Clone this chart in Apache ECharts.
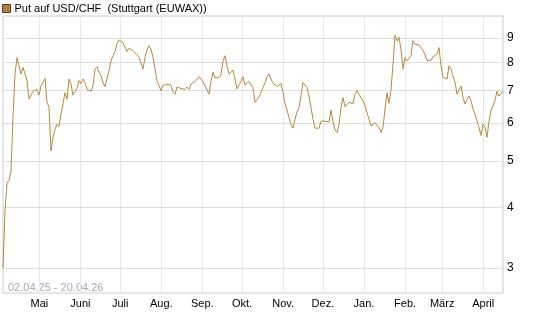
<!DOCTYPE html>
<html lang="de">
<head>
    <meta charset="UTF-8">
    <title>Put auf USD/CHF</title>
    <script src="https://cdn.jsdelivr.net/npm/echarts@6.0.0/dist/echarts.min.js"></script>
    <style>
        html, body { margin: 0; padding: 0; background: #fff; }
        #main { width: 545px; height: 327px; }
    </style>
</head>
<body>
    <div id="main"></div>
    <script>
        const seriesName = 'Put auf USD/CHF  (Stuttgart (EUWAX))'
        const rangeLabel = '02.04.25 - 20.04.26'
        // first and last sample of the line
        const firstDay = [2025, 4, 3, 14]
        const lastDay = [2026, 4, 15, 22]
        const monthTicks = ['2025-05-01', '2025-06-01', '2025-07-01', '2025-08-01', '2025-09-01', '2025-10-01',
            '2025-11-01', '2025-12-01', '2026-01-01', '2026-02-01', '2026-03-01', '2026-04-01']
        const monthNames = ['Jan.', 'Feb.', 'März', 'April', 'Mai', 'Juni', 'Juli', 'Aug.', 'Sep.', 'Okt.', 'Nov.', 'Dez.']
        const yTicks = [3, 4, 5, 6, 7, 8, 9]
        // prices, evenly spaced in time
        const prices = [
            3.0, 3.95, 4.49, 4.56, 4.77, 6.18, 7.58, 8.2, 7.88, 7.58, 7.82, 7.58, 7.34, 6.72, 6.75, 6.98, 7.04, 7.04, 6.85, 7.16,
            7.22, 7.42, 6.62, 6.46, 5.25, 5.6, 5.82, 5.96, 5.9, 6.26, 6.57, 6.93, 6.72, 7.4, 7.22, 6.85, 6.98, 7.07, 7.34, 7.24,
            7.4, 7.28, 7.04, 7.0, 6.98, 7.16, 7.76, 7.84, 7.64,
            7.52, 7.28, 7.13, 7.19, 7.7, 8.07, 8.27, 8.44, 8.76, 8.92, 8.96, 8.8, 8.8, 8.44, 8.57, 8.6, 8.47, 8.41, 8.31, 8.2,
            8.2, 7.76, 8.2, 8.53, 8.67, 8.53, 8.2, 7.76, 7.34, 7.16, 7.0, 7.18, 7.18, 7.22, 7.24, 7.18, 6.95, 6.88, 7.12, 7.16,
            7.07, 7.1, 7.04, 7.12, 7.04, 7.22, 7.24, 7.31, 7.4, 7.48,
            7.5, 7.31, 7.17, 7.12, 6.88, 7.34, 7.64, 7.43, 7.46, 7.46, 7.55, 8.07, 8.27, 7.88, 7.58, 7.55, 7.72, 7.4, 7.06, 7.19,
            7.31, 7.48, 7.19, 7.14, 7.31, 7.33, 7.1, 6.62, 6.57, 6.79, 6.75, 7.1, 7.27, 7.48, 7.58, 7.4, 7.25, 7.2, 7.14, 7.13,
            7.24, 6.93, 6.59, 6.38, 6.15, 5.96, 5.85, 6.1, 6.32, 6.46,
            6.82, 7.28, 7.34, 7.1, 6.82, 6.46, 6.1, 5.85, 5.81, 5.85, 6.05, 6.02, 6.05, 6.07, 6.02, 6.38, 6.05, 5.8, 5.73, 5.96,
            6.46, 6.77, 6.48, 6.52, 6.62, 6.57, 6.57, 6.88, 7.0, 6.88, 6.93, 6.67, 6.52, 6.31, 6.1, 5.91, 5.96, 6.0, 5.97, 5.87,
            5.73, 5.87, 6.41, 6.93, 6.59, 7.04, 7.94, 9.12, 8.87, 9.03,
            8.53, 7.76, 8.2, 8.07, 8.0, 8.27, 8.89, 8.73, 8.71, 8.71, 8.71, 8.49, 8.31, 8.09, 8.04, 8.09, 8.23, 8.2, 8.33, 8.6,
            7.88, 7.46, 7.43, 7.4, 7.88, 7.76, 7.7, 7.28, 6.88, 6.82, 7.16, 6.77, 6.57, 6.72, 6.82, 6.67, 6.41, 6.26, 6.05, 5.87,
            5.65, 5.96, 5.87, 5.6, 6.05, 6.36, 6.31, 6.67, 6.98, 6.82, 6.88, 6.98
        ]

        function toTs (s) {
            const p = s.split('-').map(Number)
            return new Date(p[0], p[1] - 1, p[2]).getTime()
        }

        function init () {
            const chart = echarts.init(document.getElementById('main'))
            const startTs = new Date(firstDay[0], firstDay[1] - 1, firstDay[2], firstDay[3]).getTime()
            const endTs = new Date(lastDay[0], lastDay[1] - 1, lastDay[2], lastDay[3]).getTime()
            const step = (endTs - startTs) / (prices.length - 1)
            const data = prices.map((v, i) => [startTs + i * step, v])
            const ticks = monthTicks.map(toTs)
            const font = 'Liberation Sans'

            const option = {
                animation: false,
                textStyle: { fontFamily: font },
                legend: {
                    left: 0,
                    top: 0,
                    padding: [3, 0, 0, 2],
                    icon: 'rect',
                    itemWidth: 8,
                    itemHeight: 8,
                    selectedMode: false,
                    itemStyle: { color: '#b08040', borderColor: '#5a4020', borderWidth: 1 },
                    textStyle: { fontSize: 11, color: '#000', fontFamily: font, padding: [0, 0, 0, -1] }
                },
                grid: {
                    left: 3, right: 42, top: 16, bottom: 34,
                    show: true, borderColor: '#ccc', borderWidth: 1,
                    outerBoundsMode: 'none'
                },
                graphic: [{
                    type: 'text', left: 8, top: 282,
                    style: { text: rangeLabel, fill: '#a3a9b5', font: '11px "Liberation Sans"' }
                }],
                xAxis: {
                    // timestamps on a plain value axis, month starts as ticks
                    type: 'value',
                    min: startTs,
                    max: endTs,
                    axisLine: { show: false },
                    axisTick: { show: false, customValues: ticks },
                    splitLine: { show: true, lineStyle: { color: '#e8e8e8', width: 1 } },
                    axisLabel: {
                        customValues: ticks,
                        margin: 5,
                        fontSize: 11,
                        color: '#000',
                        formatter: v => monthNames[new Date(v).getMonth()]
                    }
                },
                yAxis: {
                    type: 'log',
                    position: 'right',
                    min: 2.66,
                    max: 10,
                    axisLine: { show: false },
                    axisTick: { show: false },
                    axisLabel: { show: false },
                    splitLine: { show: false }
                },
                series: [{
                    name: seriesName,
                    type: 'line',
                    data: data,
                    showSymbol: false,
                    z: 3,
                    itemStyle: { color: '#b8873a' },
                    lineStyle: { color: '#b8873a', width: 1 },
                    markLine: {
                        silent: true,
                        z: 1,
                        symbol: ['none', 'none'],
                        lineStyle: { color: '#ddd', type: 'solid', width: 1 },
                        label: {
                            position: 'end',
                            distance: 4,
                            fontSize: 12,
                            color: '#000',
                            formatter: p => p.value
                        },
                        emphasis: { disabled: true },
                        data: yTicks.map(v => ({ yAxis: v }))
                    }
                }]
            }
            chart.setOption(option)
        }

        init()
    </script>
</body>
</html>
